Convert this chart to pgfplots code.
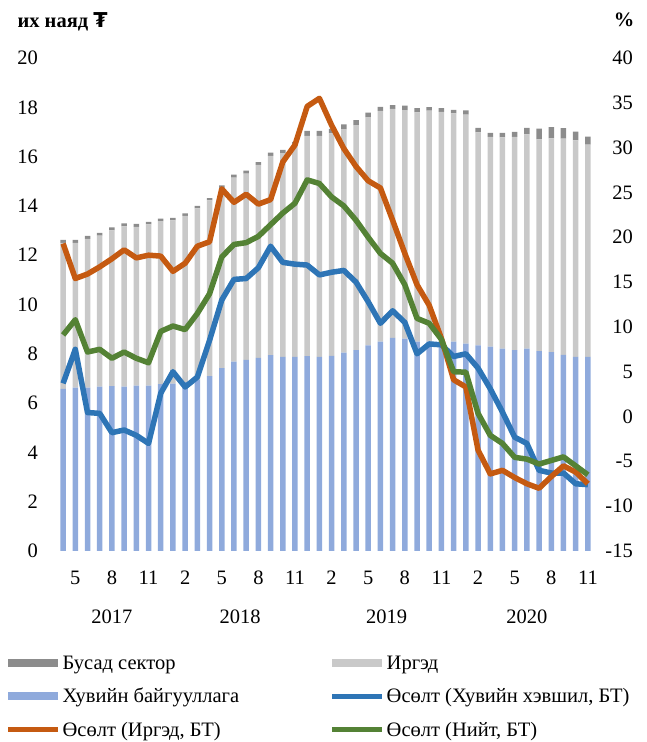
\documentclass[border=0pt]{standalone}
\usepackage{fontspec}
\setmainfont{Liberation Serif}
\newfontfamily\dvsans{DejaVu Sans}
\usepackage{pgfplots}
\usepackage{pgfplotstable}
\pgfplotsset{compat=1.18}
\definecolor{privblue}{HTML}{8FAADC}
\definecolor{irggray}{HTML}{C9C9C9}
\definecolor{othgray}{HTML}{8C8C8C}
\definecolor{lblue}{HTML}{2E75B6}
\definecolor{lorange}{HTML}{C55A11}
\definecolor{lgreen}{HTML}{548235}

\pgfplotstableread{
i priv irg oth
0 6.58 5.92 0.12
1 6.63 5.87 0.12
2 6.63 6.03 0.12
3 6.67 6.12 0.12
4 6.69 6.32 0.12
5 6.67 6.50 0.12
6 6.71 6.44 0.12
7 6.71 6.54 0.10
8 6.77 6.61 0.10
9 6.79 6.62 0.10
10 6.85 6.75 0.10
11 6.94 6.96 0.10
12 7.09 7.13 0.10
13 7.42 7.31 0.10
14 7.68 7.47 0.12
15 7.75 7.56 0.12
16 7.83 7.83 0.12
17 7.95 8.08 0.13
18 7.88 8.26 0.13
19 7.88 8.57 0.15
20 7.91 8.93 0.20
21 7.88 8.96 0.20
22 7.92 9.02 0.18
23 8.05 9.06 0.20
24 8.15 9.13 0.20
25 8.34 9.26 0.18
26 8.49 9.36 0.17
27 8.65 9.29 0.15
28 8.62 9.27 0.18
29 8.49 9.30 0.18
30 8.49 9.37 0.15
31 8.50 9.31 0.16
32 8.49 9.26 0.15
33 8.41 9.29 0.18
34 8.34 8.64 0.19
35 8.29 8.51 0.16
36 8.21 8.57 0.18
37 8.15 8.65 0.20
38 8.21 8.69 0.27
39 8.11 8.59 0.43
40 8.07 8.67 0.46
41 7.96 8.77 0.42
42 7.88 8.78 0.35
43 7.88 8.61 0.32
}\bars

\pgfplotstableread{
i priv irg tot
0 3.7 19.3 9.1
1 7.5 15.4 10.8
2 0.45 15.9 7.2
3 0.35 16.7 7.5
4 -1.8 17.6 6.5
5 -1.5 18.6 7.2
6 -2.1 17.7 6.5
7 -3.0 18.0 6.0
8 2.6 17.9 9.5
9 5.0 16.2 10.1
10 3.3 17.1 9.7
11 4.4 19.0 11.5
12 8.5 19.5 13.7
13 13.0 25.4 17.8
14 15.3 23.9 19.2
15 15.4 24.8 19.4
16 16.6 23.7 20.1
17 19.0 24.2 21.4
18 17.2 28.4 22.7
19 17.0 30.3 23.8
20 16.9 34.6 26.4
21 15.8 35.5 26.0
22 16.1 32.5 24.5
23 16.3 29.9 23.5
24 15.0 27.9 21.9
25 12.8 26.3 20.0
26 10.4 25.5 18.2
27 11.8 21.9 17.1
28 10.5 18.2 14.7
29 7.0 14.7 10.95
30 8.1 12.4 10.4
31 8.0 8.7 8.6
32 6.7 4.1 5.0
33 7.0 3.3 4.95
34 5.4 -3.75 0.35
35 3.1 -6.4 -2.1
36 0.5 -6.0 -3.0
37 -2.3 -6.8 -4.55
38 -3.0 -7.5 -4.75
39 -6.0 -8.0 -5.3
40 -6.3 -6.7 -4.9
41 -6.3 -5.5 -4.5
42 -7.5 -6.2 -5.5
43 -7.6 -7.5 -6.5
}\growth

\pgfplotsset{
  barleg/.style={legend image code/.code={\fill[##1, draw=none] (0pt,-4pt) rectangle (50pt,4pt);}},
  lineleg/.style={legend image code/.code={\draw[##1, line width=4.5pt] (0pt,0pt) -- (50pt,0pt);}},
}

\begin{document}
\begin{tikzpicture}[font=\fontsize{20.5}{24}\selectfont]
\useasboundingbox (0,0) rectangle (646pt,742pt);
\begin{axis}[
  at={(57pt,191pt)}, anchor=south west, scale only axis,
  width=537pt, height=493pt,
  ybar stacked, bar width=5.5pt,
  xmin=-0.5, xmax=43.5, ymin=0, ymax=20,
  ytick={0,2,...,20},
  axis line style={draw=none}, major tick length=0pt,
  xtick={1,4,...,43},
  xticklabels={5,8,11,2,5,8,11,2,5,8,11,2,5,8,11},
  extra x ticks={4,14.5,26.5,38},
  extra x tick labels={2017,2018,2019,2020},
  extra x tick style={xticklabel style={yshift=-39pt}},
  xticklabel style={inner sep=0pt, anchor=north, yshift=-20pt},
  yticklabel style={inner sep=0pt, anchor=east, xshift=-19pt},
  /pgf/number format/assume math mode=true,
]
\addplot[fill=privblue, draw=none] table[x=i,y=priv]{\bars};
\addplot[fill=irggray, draw=none] table[x=i,y=irg]{\bars};
\addplot[fill=othgray, draw=none] table[x=i,y=oth]{\bars};
\end{axis}
\begin{axis}[
  at={(57pt,191pt)}, anchor=south west, scale only axis,
  width=537pt, height=493pt,
  xmin=-0.5, xmax=43.5, ymin=-15, ymax=40,
  ytick={-15,-10,...,40}, xtick=\empty,
  axis line style={draw=none}, major tick length=0pt,
  yticklabel pos=right,
  yticklabel style={inner sep=0pt, anchor=east, xshift=39pt},
  /pgf/number format/assume math mode=true,
  legend columns=2, legend cell align=left,
  legend style={at={(-0.0950,-0.208)}, anchor=north west, draw=none, fill=none,
    inner sep=0pt, row sep=13.5pt,
    nodes={inner sep=2pt},
    /tikz/every even column/.append style={column sep=89pt}},
]
\addlegendimage{barleg, fill=othgray}
\addlegendentry{Бусад сектор}
\addlegendimage{barleg, fill=irggray}
\addlegendentry{Иргэд}
\addlegendimage{barleg, fill=privblue}
\addlegendentry{Хувийн байгууллага}
\addplot[lblue, line width=5.5pt, line join=round, lineleg] table[x=i,y=priv]{\growth};
\addlegendentry{Өсөлт (Хувийн хэвшил, БТ)}
\addplot[lorange, line width=5.5pt, line join=round, lineleg] table[x=i,y=irg]{\growth};
\addlegendentry{Өсөлт (Иргэд, БТ)}
\addplot[lgreen, line width=5.5pt, line join=round, lineleg] table[x=i,y=tot]{\growth};
\addlegendentry{Өсөлт (Нийт, БТ)}
\end{axis}
\node[anchor=west, font=\fontsize{20.5}{24}\selectfont\bfseries] at (14pt,720pt) {их наяд {\dvsans\bfseries ₮}};
\node[anchor=east, font=\fontsize{20.5}{24}\selectfont\bfseries] at (638pt,722pt) {\%};
\end{tikzpicture}
\end{document}
